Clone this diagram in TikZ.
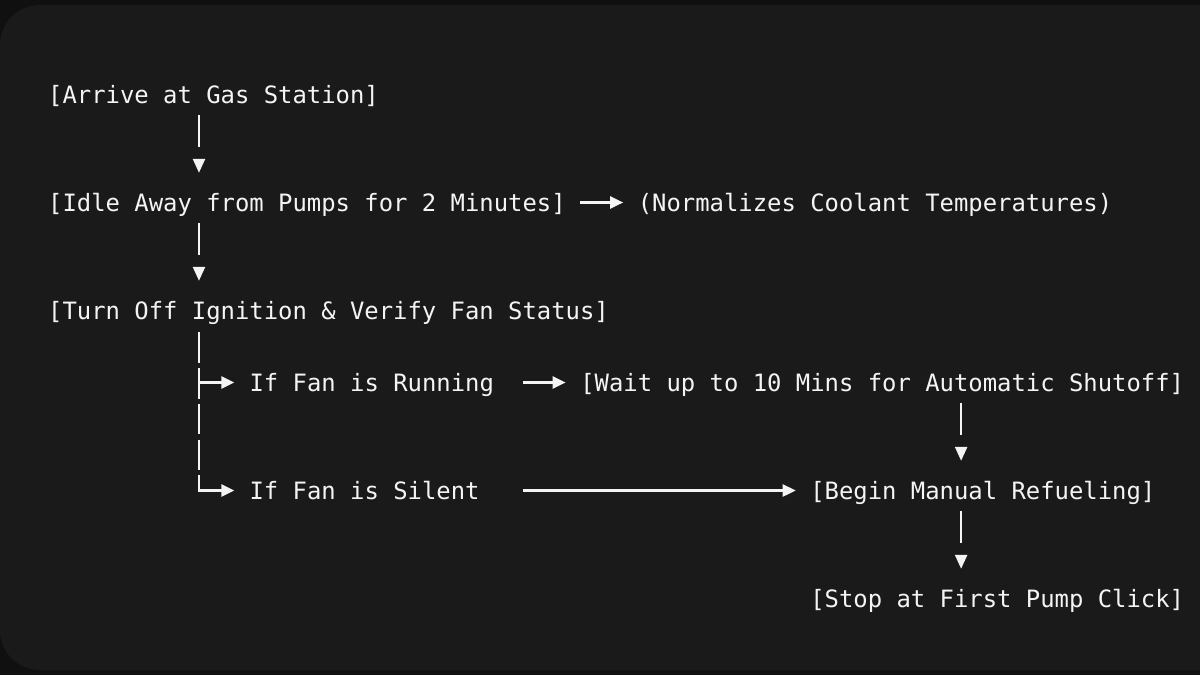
\documentclass[tikz,border=0pt]{standalone}
\usepackage{fontspec}
\newfontfamily\flowfont{DejaVu Sans Mono}
\usetikzlibrary{arrows.meta}
\usetikzlibrary{decorations.markings}
\definecolor{outerbg}{HTML}{101010}
\definecolor{panelbg}{HTML}{1A1A1A}
\definecolor{ink}{HTML}{F4F4F4}
\newcommand{\cw}{14.38}

\begin{document}
\begin{tikzpicture}[x=1pt,y=-1pt,
    txt/.style={anchor=base west, inner sep=0pt, text=ink,
        font=\flowfont\fontsize{23.88pt}{36pt}\selectfont,
        text height=18pt, text depth=1pt},
    down/.style={draw=ink, line width=2.4pt, shorten <=11pt, shorten >=46pt,
        decoration={markings, mark=at position -20pt with
            {\arrow[ink]{Triangle[length=14pt,width=12pt]}}},
        postaction={decorate}},
    flow/.style={draw=ink, line width=2.4pt, -{Triangle[length=13pt,width=12pt]}},
    trunk/.style={draw=ink, line width=2.4pt, shorten <=12pt,
        dash pattern=on 30.5pt off 5.3pt}]
    % 背景
    \useasboundingbox (0,0) rectangle (1200,675);
    \fill[outerbg] (0,0) rectangle (1200,675);
    \fill[panelbg, rounded corners=40pt] (0,5) rectangle (1240,670);

    % 文字
    \node[txt] (arrive) at (48,103) {[Arrive at Gas Station]};
    \node[txt] (idle) at (48,211) {[Idle Away from Pumps for 2 Minutes]};
    \node[txt] (cool) at ({48+41*\cw},211) {(Normalizes Coolant Temperatures)};
    \node[txt] (turn) at (48,319) {[Turn Off Ignition \& Verify Fan Status]};
    \node[txt] (run) at ({48+14*\cw},391) {If Fan is Running};
    \node[txt] (wait) at ({48+37*\cw},391) {[Wait up to 10 Mins for Automatic Shutoff]};
    \node[txt] (silent) at ({48+14*\cw},499) {If Fan is Silent};
    \node[txt] (begin) at ({48+53*\cw},499) {[Begin Manual Refueling]};
    \node[txt] (stop) at ({48+53*\cw},607) {[Stop at First Pump Click]};

    \coordinate (colA) at ({48+10.5*\cw},0);
    \coordinate (colB) at ({48+63.5*\cw},0);
    \coordinate (knee) at (silent.west -| colA);

    % 箭头
    \draw[down] (arrive.south -| colA) -- (idle.north -| colA);
    \draw[down] (idle.south -| colA) -- (turn.north -| colA);
    \draw[flow, shorten <=14.4pt, shorten >=14.4pt] (idle.east) -- (cool.west);
    \draw[trunk] (turn.south -| colA) -- (knee);
    \draw[flow, shorten >=15pt] (run.west -| colA) -- (run.west);
    \draw[flow, shorten >=15pt] ([yshift=15pt]knee) |- (silent.west);
    \draw[flow, shorten <=28.8pt, shorten >=14.4pt] (run.east) -- (wait.west);
    \draw[flow, shorten <=43.1pt, shorten >=14.4pt] (silent.east) -- (begin.west);
    \draw[down] (wait.south -| colB) -- (begin.north -| colB);
    \draw[down] (begin.south -| colB) -- (stop.north -| colB);
\end{tikzpicture}
\end{document}
